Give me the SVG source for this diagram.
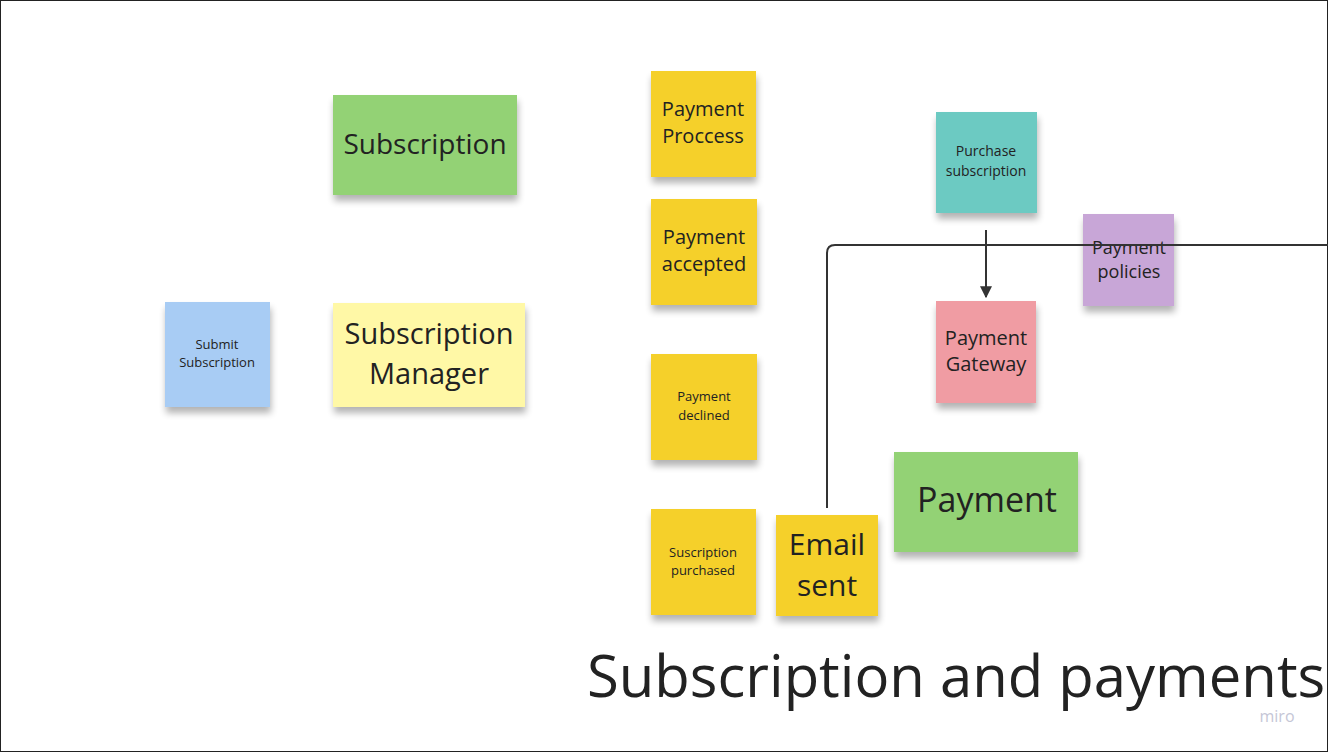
<svg xmlns="http://www.w3.org/2000/svg" width="1328" height="752" viewBox="0 0 1328 752">
<defs>
<filter id="sh" x="-20%" y="-20%" width="140%" height="160%">
<feGaussianBlur in="SourceAlpha" stdDeviation="3.5"/>
<feOffset dx="1" dy="6" result="b"/>
<feComponentTransfer><feFuncA type="linear" slope="0.3"/></feComponentTransfer>
<feMerge><feMergeNode/><feMergeNode in="SourceGraphic"/></feMerge>
</filter>
<marker id="ah" viewBox="0 0 10 10" refX="9" refY="5" markerWidth="12" markerHeight="12" markerUnits="userSpaceOnUse" orient="auto">
<path d="M0,0 L10,5 L0,10 Z" fill="#333"/>
</marker>
</defs>
<style>
text{font-family:"Open Sans","Noto Sans","DejaVu Sans",sans-serif;fill:#222;text-anchor:middle}
.sn rect{filter:url(#sh)}
.blue{fill:#A8CCF4}.green{fill:#93D275}.lyel{fill:#FFF8A6}.yel{fill:#F5D02C}.teal{fill:#6CCAC2}.pink{fill:#F09CA3}.purp{fill:#C8A6D7}
.conn{fill:none;stroke:#333;stroke-width:2}
</style>
<rect x="0.5" y="0.5" width="1327" height="751" fill="#fff" stroke="#222" stroke-width="1"/>

<g id="submit-subscription" class="sn"><rect class="blue" x="165" y="302" width="105" height="105"/><text x="217" y="349" font-size="13">Submit</text><text x="217" y="367" font-size="13">Subscription</text></g>
<g id="subscription" class="sn"><rect class="green" x="333" y="95" width="184" height="100"/><text x="425" y="154" font-size="28">Subscription</text></g>
<g id="subscription-manager" class="sn"><rect class="lyel" x="333" y="303" width="192" height="104"/><text x="429" y="344" font-size="29">Subscription</text><text x="429" y="384" font-size="29">Manager</text></g>
<g id="payment-proccess" class="sn"><rect class="yel" x="651" y="71" width="105" height="106"/><text x="703" y="116" font-size="20">Payment</text><text x="703" y="143" font-size="20">Proccess</text></g>
<g id="payment-accepted" class="sn"><rect class="yel" x="651" y="199" width="106" height="106"/><text x="704" y="244" font-size="20">Payment</text><text x="704" y="271" font-size="20">accepted</text></g>
<g id="payment-declined" class="sn"><rect class="yel" x="651" y="354" width="106" height="106"/><text x="704" y="401" font-size="13">Payment</text><text x="704" y="420" font-size="13">declined</text></g>
<g id="suscription-purchased" class="sn"><rect class="yel" x="651" y="509" width="105" height="106"/><text x="703" y="557" font-size="13">Suscription</text><text x="703" y="575" font-size="13">purchased</text></g>
<g id="email-sent" class="sn"><rect class="yel" x="776" y="515" width="102" height="101"/><text x="827" y="555" font-size="30">Email</text><text x="827" y="596" font-size="30">sent</text></g>
<g id="purchase-subscription" class="sn"><rect class="teal" x="936" y="112" width="101" height="101"/><text x="986" y="156" font-size="14">Purchase</text><text x="986" y="176" font-size="14">subscription</text></g>
<g id="payment-gateway" class="sn"><rect class="pink" x="936" y="301" width="100" height="102"/><text x="986" y="345" font-size="20">Payment</text><text x="986" y="371" font-size="20">Gateway</text></g>
<g id="payment-policies" class="sn"><rect class="purp" x="1083" y="214" width="91" height="92"/><text x="1129" y="254" font-size="18">Payment</text><text x="1129" y="278" font-size="18">policies</text></g>
<g id="payment" class="sn"><rect class="green" x="894" y="452" width="184" height="100"/><text x="987" y="512" font-size="34">Payment</text></g>

<g id="connectors">
<path class="conn" d="M827,508 V253 Q827,245 835,245 H1328"/>
<path class="conn" d="M986,230 V297" marker-end="url(#ah)"/>
</g>

<text id="title" x="587" y="697" font-size="58" style="text-anchor:start">Subscription and payments</text>
<text x="1277" y="722" font-size="16" style="fill:#C5C6D6">miro</text>
</svg>
